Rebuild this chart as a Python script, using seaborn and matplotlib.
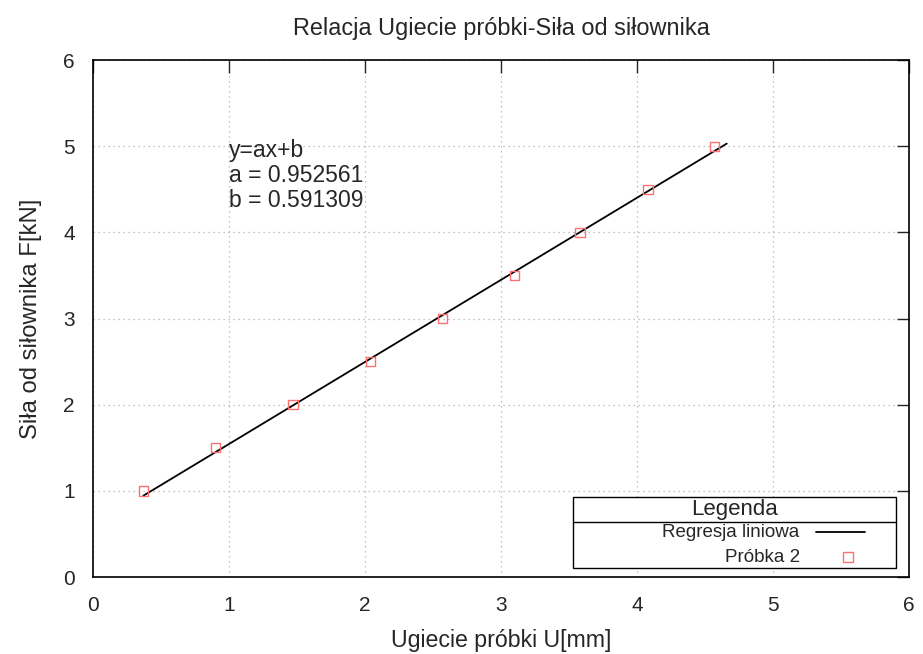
import matplotlib
matplotlib.use("Agg")
import matplotlib.pyplot as plt
import seaborn as sns
import numpy as np
import pandas as pd
from matplotlib.lines import Line2D
from matplotlib.patches import Rectangle

# Data
ugiecie = [0.37, 0.90, 1.47, 2.04, 2.57, 3.10, 3.58, 4.08, 4.57]
sila = [1.0, 1.5, 2.0, 2.5, 3.0, 3.5, 4.0, 4.5, 5.0]
coef_a = 0.952561
coef_b = 0.591309
line_x_range = [0.37, 4.66]
x_ticks = [0, 1, 2, 3, 4, 5, 6]
y_ticks = [0, 1, 2, 3, 4, 5, 6]
legend_title = "Legenda"
series_names = ["Regresja liniowa", "Próbka 2"]

sns.set_style("white")
plt.rcParams['font.family'] = ['Liberation Sans', 'DejaVu Sans']

fig = plt.figure(figsize=(9.23, 6.54), dpi=100)
ax = fig.add_axes([0.1008, 0.1177, 0.8840, 0.7905])

lx = np.array(line_x_range)
df_line = pd.DataFrame({"x": lx, "y": coef_a * lx + coef_b})
df_pts = pd.DataFrame({"x": ugiecie, "y": sila})

line_color = "black"
pt_color = "#ff7070"
sns.lineplot(data=df_line, x="x", y="y", ax=ax, color=line_color, linewidth=1.3)
sns.scatterplot(data=df_pts, x="x", y="y", ax=ax, marker="s", s=45,
                facecolor="none", edgecolor=pt_color, linewidth=1.0, zorder=5)

ax.set_xlim(0, 6)
ax.set_ylim(0, 6)
ax.set_xticks(x_ticks)
ax.set_yticks(y_ticks)
ax.tick_params(direction="in", top=True, right=True, length=9, width=1,
               labelsize=15)
ax.tick_params(axis="x", pad=14)
ax.tick_params(axis="y", pad=13)
ax.grid(True, linestyle=(0, (1, 3)), color="#b0b0b0", linewidth=0.9)
for s in ax.spines.values():
    s.set_color("black")
    s.set_linewidth(1.2)

ax.set_title("Relacja Ugiecie próbki-Siła od siłownika", fontsize=16.9, pad=18)
ax.set_xlabel("Ugiecie próbki U[mm]", fontsize=16.7, labelpad=10)
ax.set_ylabel("Siła od siłownika F[kN]", fontsize=17.2, labelpad=15)

ax.text(1.0, 4.66, "y=ax+b\na = %g\nb = %g" % (coef_a, coef_b), fontsize=16.5,
        va="center", ha="left", linespacing=1.1)

# Legend box (gnuplot style)
tr = ax.transAxes
ax.add_patch(Rectangle((0.588, 0.0174), 0.396, 0.1373, transform=tr,
                       facecolor="white", edgecolor="black", linewidth=1.0,
                       zorder=20))
ax.add_line(Line2D([0.588, 0.984], [0.1064, 0.1064], transform=tr,
                   color="black", linewidth=1.0, zorder=21))
ax.text(0.786, 0.1300, legend_title, transform=tr, ha="center", va="center",
        fontsize=16, zorder=22)
ax.text(0.866, 0.0870, series_names[0], transform=tr, ha="right", va="center",
        fontsize=13.5, zorder=22)
ax.text(0.866, 0.0387, series_names[1], transform=tr, ha="right", va="center",
        fontsize=13.5, zorder=22)
ax.add_line(Line2D([0.886, 0.946], [0.0870, 0.0870], transform=tr,
                   color=line_color, linewidth=1.3, zorder=22))
ax.add_line(Line2D([0.925], [0.0387], transform=tr, linestyle="none",
                   marker="s", markersize=6.5, markerfacecolor="none",
                   markeredgecolor=pt_color, markeredgewidth=1.0, zorder=22))

fig.savefig("out.png", dpi=100)
